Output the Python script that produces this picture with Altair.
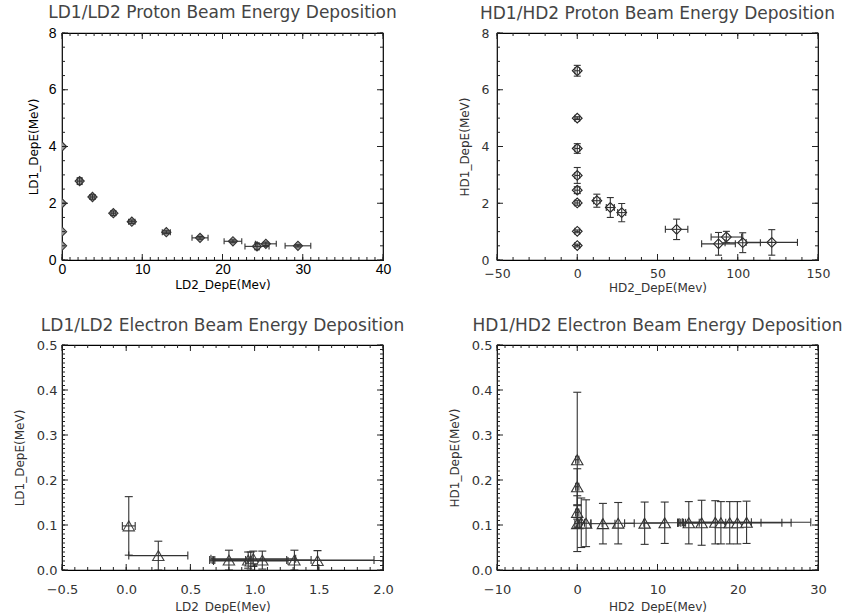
import altair as alt
import pandas as pd

# ---------------- data ----------------
# Panel 1: LD1/LD2 proton beam
p1_x = [0, 0, 0, 0, 2.2, 3.8, 6.4, 8.7, 13.0, 17.2, 21.3, 24.3, 25.4, 29.4]
p1_y = [4.0, 2.0, 1.0, 0.5, 2.78, 2.22, 1.65, 1.35, 0.98, 0.78, 0.66, 0.48, 0.57, 0.5]
p1_xerr = [0, 0, 0, 0, 0.3, 0.3, 0.3, 0.4, 0.5, 1.0, 1.1, 1.5, 1.3, 1.6]
p1_yerr = [0, 0, 0, 0, 0.12, 0.08, 0.08, 0.06, 0.05, 0.05, 0.05, 0.12, 0.06, 0.04]

# Panel 2: HD1/HD2 proton beam
p2_x = [0, 0, 0, 0, 0, 0, 0, 0, 12.2, 20.6, 27.7, 61.9, 88.0, 92.9, 103.1, 121.2]
p2_y = [6.67, 5.0, 3.93, 2.98, 2.46, 2.01, 1.01, 0.51, 2.09, 1.85, 1.67, 1.08, 0.57, 0.81, 0.61, 0.62]
p2_xerr = [1.5, 1.5, 1.5, 1.5, 1.5, 1.5, 1.5, 1.5, 2.0, 2.5, 2.5, 7.0, 10.5, 9.5, 11.0, 16.0]
p2_yerr = [0.19, 0.05, 0.17, 0.28, 0.12, 0.08, 0.05, 0.05, 0.23, 0.35, 0.32, 0.36, 0.40, 0.20, 0.35, 0.45]

# Panel 3: LD1/LD2 electron beam
p3_x = [0.02, 0.25, 0.80, 0.95, 0.97, 0.99, 1.06, 1.31, 1.49]
p3_y = [0.098, 0.032, 0.022, 0.022, 0.020, 0.025, 0.022, 0.022, 0.021]
p3_xerr = [0.05, 0.23, 0.13, 0.30, 0.29, 0.33, 0.38, 0.62, 0.51]
p3_yerr = [0.065, 0.032, 0.022, 0.018, 0.020, 0.017, 0.020, 0.022, 0.022]

# Panel 4: HD1/HD2 electron beam
p4_x = [0, 0, 0, 0, 0.5, 1.1, 3.2, 5.1, 8.4, 10.9, 13.9, 15.5, 17.2, 17.9, 19.0, 19.95, 21.1]
p4_y = [0.245, 0.185, 0.128, 0.103, 0.105, 0.104, 0.103, 0.104, 0.104, 0.105, 0.105,
        0.105, 0.106, 0.105, 0.105, 0.105, 0.106]
p4_xerr = [0.2, 0.2, 0.2, 0.3, 0.4, 0.6, 1.5, 2.0, 2.5, 2.6, 1.3, 3.0, 4.5, 5.0, 6.5, 6.7, 8.0]
p4_yerr = [0.15, 0.04, 0.015, 0.062, 0.055, 0.052, 0.045, 0.046, 0.047, 0.046, 0.047,
           0.05, 0.048, 0.047, 0.047, 0.047, 0.047]

# tick labels (major ticks)
p1_xticks = [0, 10, 20, 30, 40]
p2_xticks = [-50, 0, 50, 100, 150]
p12_yticks = [0, 2, 4, 6, 8]
p3_xticks = [-0.5, 0.0, 0.5, 1.0, 1.5, 2.0]
p4_xticks = [-10, 0, 10, 20, 30]
p34_yticks = [0.0, 0.1, 0.2, 0.3, 0.4, 0.5]

W = 321
MAJ, MIN = 6, 3
TICK_COLOR = "#222"
TITLE_FONT = "DejaVu Sans"
LABEL_FONT = "DejaVu Sans"


def minor(lo, hi, step):
    n = int(round((hi - lo) / step))
    return [round(lo + i * step, 6) for i in range(n + 1)]


def axis(orient, values, fmt, title, st):
    return alt.Axis(orient=orient, values=values, format=fmt, domain=False, grid=False,
                    ticks=False, labels=True, labelFont=st["lfont"],
                    labelFontSize=st["lsize"], labelColor=st["color"],
                    labelPadding=st["lpad"], labelFlush=False, labelOverlap=False,
                    title=title, titleFont=LABEL_FONT, titleFontSize=st["tsize"],
                    titleFontWeight="normal", titleColor=st["color"],
                    titlePadding=st["tpad"])


def panel(x, y, xerr, yerr, xdom, ydom, xmaj, xstep, ymaj, ystep, xfmt, yfmt,
          xtitle, ytitle, title, shape, size, fill, stroke, capw, xst, yst, H):
    df = pd.DataFrame(dict(x=x, y=y, xerr=xerr, yerr=yerr))
    df["xlo"] = df.x - df.xerr
    df["xhi"] = df.x + df.xerr
    df["ylo"] = df.y - df.yerr
    df["yhi"] = df.y + df.yerr
    xb = df[df.xerr > 0]
    yb = df[df.yerr > 0]
    xcaps = pd.DataFrame({"cx": list(xb.xlo) + list(xb.xhi), "cy": list(xb.y) * 2})
    ycaps = pd.DataFrame({"cx": list(yb.x) * 2, "cy": list(yb.ylo) + list(yb.yhi)})

    xs = alt.Scale(domain=xdom, nice=False, zero=False)
    ys = alt.Scale(domain=ydom, nice=False, zero=False)
    xa = axis("bottom", xmaj, xfmt, xtitle, xst)
    ya = axis("left", ymaj, yfmt, ytitle, yst)

    def X(f):
        return alt.X(f, scale=xs, axis=xa)

    def Y(f):
        return alt.Y(f, scale=ys, axis=ya)

    base = alt.Chart(df)
    pts = base.mark_point(shape=shape, size=size, filled=False, fill=fill, fillOpacity=1,
                          stroke=stroke, strokeWidth=1.1, opacity=1, clip=True).encode(
        x=X("x:Q"), y=Y("y:Q"))
    xr = alt.Chart(xb).mark_rule(color="#333", strokeWidth=1.1, clip=True).encode(
        x=X("xlo:Q"), x2="xhi:Q", y=Y("y:Q"))
    yr = alt.Chart(yb).mark_rule(color="#333", strokeWidth=1.1, clip=True).encode(
        x=X("x:Q"), y=Y("ylo:Q"), y2="yhi:Q")
    xc = alt.Chart(xcaps).mark_tick(orient="vertical", size=capw, thickness=1.1,
                                    color="#333", opacity=1, clip=True).encode(
        x=X("cx:Q"), y=Y("cy:Q"))
    yc = alt.Chart(ycaps).mark_tick(orient="horizontal", size=capw, thickness=1.1,
                                    color="#333", opacity=1, clip=True).encode(
        x=X("cx:Q"), y=Y("cy:Q"))

    # inward tick marks on all four sides (major and minor), through the scales
    ticks = []
    for xv, yv, ln in ((xmaj, ymaj, MAJ),
                       (minor(xdom[0], xdom[1], xstep), minor(ydom[0], ydom[1], ystep), MIN)):
        rx = alt.Chart(pd.DataFrame({"v": xv})).mark_rule(color=TICK_COLOR, strokeWidth=1)
        ry = alt.Chart(pd.DataFrame({"v": yv})).mark_rule(color=TICK_COLOR, strokeWidth=1)
        ticks += [
            rx.encode(x=X("v:Q"), y=alt.value(H), y2=alt.value(H - ln)),
            rx.encode(x=X("v:Q"), y=alt.value(0), y2=alt.value(ln)),
            ry.encode(y=Y("v:Q"), x=alt.value(0), x2=alt.value(ln)),
            ry.encode(y=Y("v:Q"), x=alt.value(W), x2=alt.value(W - ln)),
        ]

    return alt.layer(pts, xr, yr, xc, yc, *ticks).properties(
        width=W, height=H,
        title=alt.TitleParams(title, font=TITLE_FONT, fontSize=17, fontWeight="normal",
                              color="#444", anchor="middle", frame="group", offset=4))


# axis text styles per panel
s1x = dict(lfont="Liberation Sans", lsize=14, color="#000", lpad=2, tsize=12, tpad=3)
s1y = dict(lfont="Liberation Sans", lsize=14, color="#000", lpad=6, tsize=12, tpad=8)
s2x = dict(lfont=LABEL_FONT, lsize=12.5, color="#333", lpad=7, tsize=12, tpad=3)
s2y = dict(lfont=LABEL_FONT, lsize=12.5, color="#333", lpad=8, tsize=12, tpad=10)
s3x = dict(lfont=LABEL_FONT, lsize=13, color="#333", lpad=13, tsize=12, tpad=5)
s3y = dict(lfont=LABEL_FONT, lsize=13, color="#333", lpad=5, tsize=12, tpad=10)

c1 = panel(p1_x, p1_y, p1_xerr, p1_yerr, [0, 40], [0, 8], p1_xticks, 1, p12_yticks, 0.5,
           "d", "d", "LD2_DepE(Mev)", "LD1_DepE(MeV)",
           "LD1/LD2 Proton Beam Energy Deposition", "diamond", 85, "#9a9a9a", "#333",
           6, s1x, s1y, 227)
c2 = panel(p2_x, p2_y, p2_xerr, p2_yerr, [-50, 150], [0, 8], p2_xticks, 10, p12_yticks, 0.5,
           "d", "d", "HD2_DepE(Mev)", "HD1_DepE(MeV)",
           "HD1/HD2 Proton Beam Energy Deposition", "diamond", 95, "#ffffff", "#222",
           7, s2x, s2y, 227)
c3 = panel(p3_x, p3_y, p3_xerr, p3_yerr, [-0.5, 2.0], [0, 0.5], p3_xticks, 0.1, p34_yticks,
           0.01, ".1f", ".1f", "LD2_DepE(Mev)", "LD1_DepE(MeV)",
           "LD1/LD2 Electron Beam Energy Deposition", "triangle-up", 130, "#ffffff", "#444",
           8, s3x, s3y, 225)
c4 = panel(p4_x, p4_y, p4_xerr, p4_yerr, [-10, 30], [0, 0.5], p4_xticks, 1, p34_yticks,
           0.01, "d", ".1f", "HD2_DepE(Mev)", "HD1_DepE(MeV)",
           "HD1/HD2 Electron Beam Energy Deposition", "triangle-up", 130, "#ffffff", "#333",
           8, s3x, s3y, 225)

chart = alt.concat(c1, c2, c3, c4, columns=2,
                   spacing={"row": 21, "column": 42}).configure_view(
    stroke="#000", strokeWidth=1.2).properties(
    padding={"left": 12, "top": 3, "right": 4, "bottom": 0}, background="white")

chart.save("out.html", embed_options={"renderer": "svg", "actions": False})
